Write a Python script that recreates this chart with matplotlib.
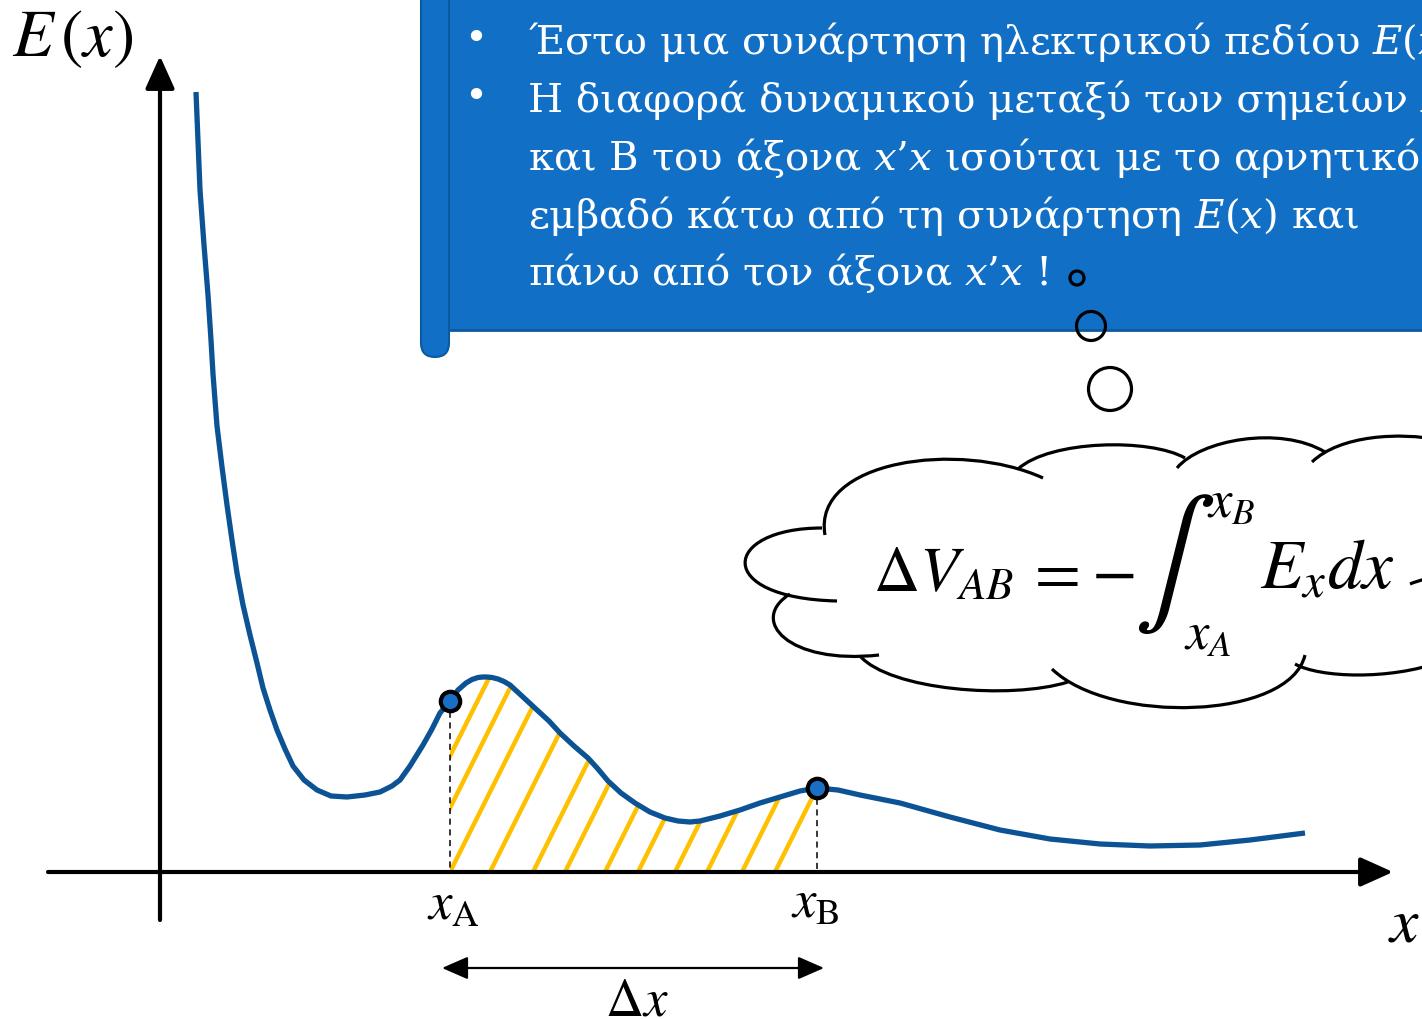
import numpy as np
import matplotlib
matplotlib.use("Agg")
import matplotlib.pyplot as plt
from matplotlib.patches import Rectangle, FancyBboxPatch, Circle, Polygon, PathPatch
from matplotlib.path import Path

plt.rcParams['mathtext.fontset'] = 'stix'
plt.rcParams['font.family'] = ['DejaVu Serif', 'Liberation Serif']

# E(x) curve (pixel coords, y grows downward)
curve_x = [196, 200, 204, 208, 211, 213, 217, 222, 227, 232, 237, 243, 250, 257, 263,
           270, 277, 285, 293, 304, 317, 331, 347, 365, 380, 392, 400, 410, 423, 432,
           440, 450, 458, 466, 472, 478, 483, 487, 492, 498, 504, 510, 523, 537, 549,
           560, 574, 588, 598, 608, 621, 635, 650, 665, 678, 690, 700, 720, 740, 760,
           780, 800, 817, 838, 860, 900, 950, 1000, 1050, 1100, 1150, 1200, 1250, 1305]
curve_y = [92, 190, 245, 295, 340, 374, 426, 467, 505, 540, 573, 605, 635, 663, 688,
           710, 730, 749, 766, 780, 790, 796, 797, 795, 792, 786, 780, 766, 745, 729,
           713, 701, 690, 683, 679.5, 677.5, 677, 677, 677.5, 679, 681.5, 685, 697, 710, 721,
           733, 746, 758, 769, 781, 793, 803, 812, 818, 821, 822, 821, 816, 810, 803,
           797, 791, 788, 790, 795, 803, 817, 830, 839, 844, 846, 845, 840, 833]

x_a, x_b = 450, 817
y_axis_x, x_axis_y = 160, 872

# bottoms of the hatch strokes along the x axis
hatch_x0 = [392, 418, 450, 490, 533, 565, 605, 638, 675, 707, 742, 775]

box_lines = [
    "Έστω μια συνάρτηση ηλεκτρικού πεδίου $E(x)$",
    "Η διαφορά δυναμικού μεταξύ των σημείων Α",
    "και Β του άξονα $x’x$ ισούται με το αρνητικό",
    "εμβαδό κάτω από τη συνάρτηση $E(x)$ και",
    "πάνω από τον άξονα $x’x$ !",
]
box_bullets = [True, True, False, False, False]

# cloud lobes as cubic Bezier segments (start, ctrl1, ctrl2, end)
cloud_lobes = [
    [(825, 535), (812, 460), (960, 440), (1043, 478)],
    [(1018, 469), (1050, 440), (1150, 438), (1185, 458)],
    [(1177, 468), (1200, 440), (1280, 425), (1325, 452)],
    [(1312, 462), (1340, 435), (1400, 432), (1440, 440)],
    [(1410, 584), (1415, 582), (1420, 580), (1440, 575)],
    [(1295, 664), (1320, 678), (1390, 680), (1440, 662)],
    [(1305, 655), (1290, 720), (1110, 725), (1052, 669)],
    [(860, 656), (890, 690), (1010, 700), (1068, 682)],
    [(790, 594), (748, 620), (788, 665), (879, 655)],
    [(822, 528), (722, 528), (712, 598), (837, 601)],
]
bubbles = [(1077, 278, 7), (1091, 326, 14.5), (1110, 389, 21.5)]

BLUE_BOX = '#1170C6'
BLUE_EDGE = '#0C5A9E'
CURVE = '#0B5394'
HATCH = '#FFC000'

fig = plt.figure(figsize=(14.22, 10.19), dpi=100)
ax = fig.add_axes([0, 0, 1, 1])
ax.set_xlim(0, 1422)
ax.set_ylim(1019, 0)
ax.axis('off')

# --- axes with arrows ---
ax.annotate('', xy=(1393, x_axis_y), xytext=(48, x_axis_y),
            arrowprops=dict(arrowstyle='-|>,head_length=1.0,head_width=0.45', lw=3,
                            color='black', mutation_scale=20, shrinkA=0, shrinkB=0))
ax.annotate('', xy=(y_axis_x, 56), xytext=(y_axis_x, 920),
            arrowprops=dict(arrowstyle='-|>,head_length=1.0,head_width=0.45', lw=3,
                            color='black', mutation_scale=20, shrinkA=0, shrinkB=0))

# --- hatched area between x_A and x_B ---
cx = np.array(curve_x, dtype=float)
cy = np.array(curve_y, dtype=float)
sel = (cx >= x_a) & (cx <= x_b)
poly = [(x_a, x_axis_y)] + list(zip(cx[sel], cy[sel])) + [(x_b, cy[sel][-1]), (x_b, x_axis_y)]
clip = Polygon(poly, closed=True, facecolor='none', edgecolor='none')
ax.add_patch(clip)
for x0 in hatch_x0:
    ln, = ax.plot([x0, x0 + 110], [x_axis_y, x_axis_y - 220], color=HATCH, lw=3.2, zorder=2,
                  solid_capstyle='butt')
    ln.set_clip_path(clip)

# dashed drop lines
for xv, yv in [(x_a, 701), (x_b, 788)]:
    ax.plot([xv, xv], [yv, x_axis_y], color='black', lw=1.1, ls=(0, (4, 3)), zorder=3)

ax.plot(curve_x, curve_y, color=CURVE, lw=3.8, zorder=4, solid_capstyle='butt',
        solid_joinstyle='round')
ax.plot([x_a, x_b], [701, 788], ls='none', marker='o', ms=14, mfc='#1A6FC4',
        mec='black', mew=3, zorder=5)

# --- labels ---
ax.text(12, 56, r'$E\,(x)$', fontsize=48, ha='left', va='baseline')
ax.text(1404, 942, r'$x$', fontsize=46, ha='center', va='baseline')
ax.text(453, 920, r'$x_{\mathrm{A}}$', fontsize=38, ha='center', va='baseline')
ax.text(815, 918, r'$x_{\mathrm{B}}$', fontsize=38, ha='center', va='baseline')
ax.text(637, 1016, r'$\Delta x$', fontsize=38, ha='center', va='baseline')
ax.annotate('', xy=(824, 968), xytext=(442, 968),
            arrowprops=dict(arrowstyle='<|-|>,head_length=0.8,head_width=0.35', lw=1.6,
                            color='black', mutation_scale=20, shrinkA=0, shrinkB=0))

# --- blue text box ---
ax.add_patch(Rectangle((448, -10), 1000, 340, facecolor=BLUE_BOX, edgecolor=BLUE_EDGE,
                       lw=2, zorder=6))
ax.add_patch(FancyBboxPatch((421, -40), 28, 397, boxstyle='round,pad=0,rounding_size=14',
                            facecolor=BLUE_BOX, edgecolor=BLUE_EDGE, lw=1.5, zorder=7))
line_y = [54, 112, 170, 228, 285]
for txt, bul, yb in zip(box_lines, box_bullets, line_y):
    if bul:
        ax.text(476, yb - 15, '•', color='white', fontsize=28, ha='center', va='center',
                zorder=8)
    ax.text(528, yb, txt, color='white', fontsize=29, ha='left', va='baseline', zorder=8,
            math_fontfamily='dejavuserif')

# --- thought bubbles ---
for bx, by, br in bubbles:
    ax.add_patch(Circle((bx, by), br, facecolor='none', edgecolor='black', lw=2.3, zorder=9))

# --- cloud ---
for lobe in cloud_lobes:
    path = Path(lobe, [Path.MOVETO, Path.CURVE4, Path.CURVE4, Path.CURVE4])
    ax.add_patch(PathPatch(path, facecolor='none', edgecolor='black', lw=2.3, zorder=9))

ax.text(873, 592, r'$\Delta V_{AB}$', fontsize=46, ha='left', va='baseline', zorder=10)
ax.text(1052, 592, r'$=$', fontsize=48, ha='center', va='baseline', zorder=10)
ax.text(1113, 592, r'$-$', fontsize=48, ha='center', va='baseline', zorder=10)
ax.text(1174, 564, r'$\int$', fontsize=88, ha='center', va='center', zorder=10)
ax.text(1207, 518, r'$x_B$', fontsize=38, ha='left', va='baseline', zorder=10)
ax.text(1184, 650, r'$x_A$', fontsize=38, ha='left', va='baseline', zorder=10)
ax.text(1260, 588, r'$E_x dx$', fontsize=50, ha='left', va='baseline', zorder=10)

fig.savefig('out.png', dpi=100)
